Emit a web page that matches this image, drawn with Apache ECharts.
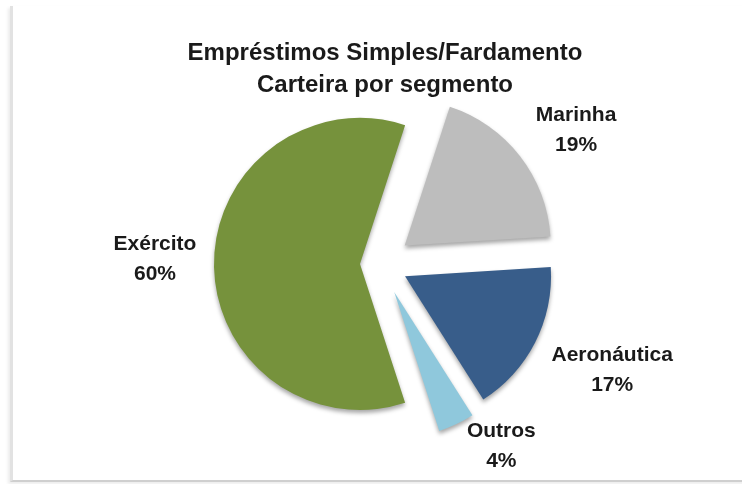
<!DOCTYPE html>
<html>
<head>
<meta charset="utf-8">
<script src="https://cdn.jsdelivr.net/npm/echarts@6/dist/echarts.min.js"></script>
<style>
  html, body { margin: 0; padding: 0; background: #fff; }
  #frame {
    position: absolute; left: 10px; top: 6px; width: 740px; height: 474px;
    border-left: 3px solid #e2e2e2; border-bottom: 2px solid #cfcfcf;
    box-shadow: -2px 2px 3px rgba(0,0,0,0.08);
  }
  #chart { position: absolute; left: 0; top: 0; width: 742px; height: 484px; }
</style>
</head>
<body>
<div id="frame"></div>
<div id="chart"></div>
<script>
// segmentos, sentido horário a partir do topo
var categories = ['Marinha', 'Aeronáutica', 'Outros', 'Exército'];
var values = [19, 17, 4, 60];
var colors = ['#bdbdbd', '#385d8a', '#8fc8dc', '#76923c'];

// afastamento de cada fatia e ajuste fino do rótulo
var offsets = [30, 27, 31, 21];
var labelShift = [[-9, -26], [12, 28], [-20, 22], [6, -5]];

var chart = echarts.init(document.getElementById('chart'));

var series = categories.map(function (name, k) {
  return {
    type: 'pie',
    center: [381, 264],
    radius: 146,
    startAngle: 72,
    clockwise: true,
    animation: false,
    silent: true,
    avoidLabelOverlap: false,
    selectedMode: 'single',
    selectedOffset: offsets[k],
    label: {
      show: false
    },
    labelLine: { show: false, length: 0, length2: 0 },
    labelLayout: { dx: labelShift[k][0], dy: labelShift[k][1] },
    data: categories.map(function (c, i) {
      var item = { name: c, value: values[i] };
      if (i === k) {
        item.selected = true;
        item.itemStyle = {
          color: colors[i],
          shadowColor: 'rgba(0,0,0,0.35)',
          shadowBlur: 4,
          shadowOffsetY: 3
        };
        item.label = {
          show: true,
          position: 'outside',
          distanceToLabelLine: 0,
          formatter: function (p) { return '{n|' + p.name + '}\n{n|' + p.value + '%}'; },
          rich: {
            n: {
              fontFamily: 'Liberation Sans',
              fontWeight: 'bold',
              fontSize: 21,
              color: '#1a1a1a',
              width: 130,
              align: 'center',
              lineHeight: 30
            }
          }
        };
      } else {
        item.itemStyle = { color: 'rgba(0,0,0,0)' };
      }
      return item;
    })
  };
});

var option = {
  backgroundColor: 'transparent',
  title: {
    text: 'Empréstimos Simples/Fardamento\nCarteira por segmento',
    left: 380,
    top: 32,
    textAlign: 'center',
    textStyle: {
      fontFamily: 'Liberation Sans',
      fontWeight: 'bold',
      fontSize: 24,
      lineHeight: 32,
      color: '#1a1a1a'
    }
  },
  series: series
};

chart.setOption(option);
</script>
</body>
</html>
